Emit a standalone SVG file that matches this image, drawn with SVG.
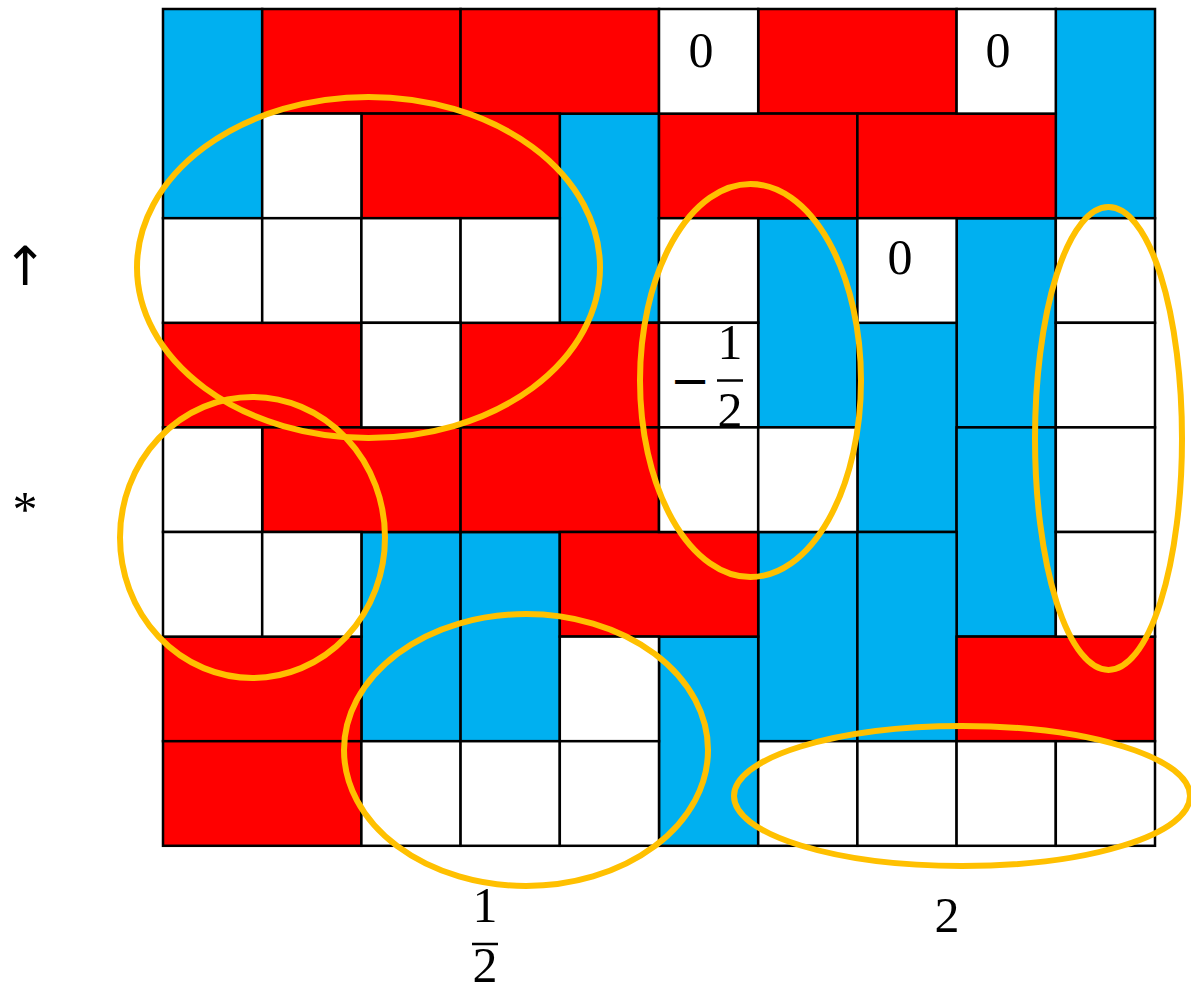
<svg xmlns="http://www.w3.org/2000/svg" width="1191" height="993" viewBox="0 0 1191 993">
<style>
.b{fill:#00B0F0;stroke:#000;stroke-width:2.5}
.r{fill:#FF0000;stroke:#000;stroke-width:2.5}
.w{fill:#FFFFFF;stroke:#000;stroke-width:2.5}
.e{fill:none;stroke:#FFC000;stroke-width:6}
.t{font-family:"Liberation Serif","DejaVu Serif",serif;font-size:50px;fill:#000;text-anchor:middle}
.s{font-family:"DejaVu Sans","Liberation Sans",sans-serif;fill:#000;text-anchor:middle}
.fb{stroke:#000;stroke-width:2.5}
</style>
<rect width="1191" height="993" fill="#FFFFFF"/>
<g id="blue-tiles">
<rect class="b" x="163" y="9" width="99.2" height="209.2"/>
<rect class="b" x="1055.8" y="9" width="99.2" height="209.2"/>
<rect class="b" x="559.8" y="113.6" width="99.2" height="209.2"/>
<rect class="b" x="758.2" y="218.2" width="99.2" height="209.2"/>
<rect class="b" x="956.6" y="218.2" width="99.2" height="209.2"/>
<rect class="b" x="857.4" y="322.8" width="99.2" height="209.2"/>
<rect class="b" x="956.6" y="427.4" width="99.2" height="209.2"/>
<rect class="b" x="361.4" y="532" width="99.2" height="209.2"/>
<rect class="b" x="460.6" y="532" width="99.2" height="209.2"/>
<rect class="b" x="758.2" y="532" width="99.2" height="209.2"/>
<rect class="b" x="857.4" y="532" width="99.2" height="209.2"/>
<rect class="b" x="659" y="636.6" width="99.2" height="209.2"/>
</g>
<g id="red-tiles">
<rect class="r" x="262.2" y="9" width="198.4" height="104.6"/>
<rect class="r" x="460.6" y="9" width="198.4" height="104.6"/>
<rect class="r" x="758.2" y="9" width="198.4" height="104.6"/>
<rect class="r" x="361.4" y="113.6" width="198.4" height="104.6"/>
<rect class="r" x="659" y="113.6" width="198.4" height="104.6"/>
<rect class="r" x="857.4" y="113.6" width="198.4" height="104.6"/>
<rect class="r" x="163" y="322.8" width="198.4" height="104.6"/>
<rect class="r" x="460.6" y="322.8" width="198.4" height="104.6"/>
<rect class="r" x="262.2" y="427.4" width="198.4" height="104.6"/>
<rect class="r" x="460.6" y="427.4" width="198.4" height="104.6"/>
<rect class="r" x="559.8" y="532" width="198.4" height="104.6"/>
<rect class="r" x="163" y="636.6" width="198.4" height="104.6"/>
<rect class="r" x="956.6" y="636.6" width="198.4" height="104.6"/>
<rect class="r" x="163" y="741.2" width="198.4" height="104.6"/>
</g>
<g id="white-cells">
<rect class="w" x="659" y="9" width="99.2" height="104.6"/>
<rect class="w" x="956.6" y="9" width="99.2" height="104.6"/>
<rect class="w" x="262.2" y="113.6" width="99.2" height="104.6"/>
<rect class="w" x="163" y="218.2" width="99.2" height="104.6"/>
<rect class="w" x="262.2" y="218.2" width="99.2" height="104.6"/>
<rect class="w" x="361.4" y="218.2" width="99.2" height="104.6"/>
<rect class="w" x="460.6" y="218.2" width="99.2" height="104.6"/>
<rect class="w" x="659" y="218.2" width="99.2" height="104.6"/>
<rect class="w" x="857.4" y="218.2" width="99.2" height="104.6"/>
<rect class="w" x="1055.8" y="218.2" width="99.2" height="104.6"/>
<rect class="w" x="361.4" y="322.8" width="99.2" height="104.6"/>
<rect class="w" x="659" y="322.8" width="99.2" height="104.6"/>
<rect class="w" x="1055.8" y="322.8" width="99.2" height="104.6"/>
<rect class="w" x="163" y="427.4" width="99.2" height="104.6"/>
<rect class="w" x="659" y="427.4" width="99.2" height="104.6"/>
<rect class="w" x="758.2" y="427.4" width="99.2" height="104.6"/>
<rect class="w" x="1055.8" y="427.4" width="99.2" height="104.6"/>
<rect class="w" x="163" y="532" width="99.2" height="104.6"/>
<rect class="w" x="262.2" y="532" width="99.2" height="104.6"/>
<rect class="w" x="1055.8" y="532" width="99.2" height="104.6"/>
<rect class="w" x="559.8" y="636.6" width="99.2" height="104.6"/>
<rect class="w" x="361.4" y="741.2" width="99.2" height="104.6"/>
<rect class="w" x="460.6" y="741.2" width="99.2" height="104.6"/>
<rect class="w" x="559.8" y="741.2" width="99.2" height="104.6"/>
<rect class="w" x="758.2" y="741.2" width="99.2" height="104.6"/>
<rect class="w" x="857.4" y="741.2" width="99.2" height="104.6"/>
<rect class="w" x="956.6" y="741.2" width="99.2" height="104.6"/>
<rect class="w" x="1055.8" y="741.2" width="99.2" height="104.6"/>
</g>
<g id="labels">
<text class="t" x="701" y="67">0</text>
<text class="t" x="998" y="67">0</text>
<text class="t" x="900" y="274">0</text>
<text class="s" x="690" y="397" font-size="48">−</text>
<text class="t" x="730" y="359">1</text>
<line class="fb" x1="717" y1="380.5" x2="743" y2="380.5"/>
<text class="t" x="730" y="427">2</text>
<text class="t" x="485" y="922">1</text>
<line class="fb" x1="472" y1="944" x2="498" y2="944"/>
<text class="t" x="485" y="982" font-size="48">2</text>
<text class="t" x="947" y="932">2</text>
<text class="s" x="25" y="285" font-size="54">↑</text>
<text class="t" x="25" y="526" font-size="56">*</text>
</g>
<g id="ellipses">
<ellipse class="e" cx="368.5" cy="267.5" rx="231.5" ry="170.5"/>
<ellipse class="e" cx="252.5" cy="537.5" rx="132.5" ry="140.5"/>
<ellipse class="e" cx="750.5" cy="380.5" rx="110.5" ry="196.5"/>
<ellipse class="e" cx="1108.5" cy="438.5" rx="73.5" ry="231.5"/>
<ellipse class="e" cx="526" cy="750" rx="182" ry="136"/>
<ellipse class="e" cx="962" cy="796" rx="228" ry="70"/>
</g>
</svg>
